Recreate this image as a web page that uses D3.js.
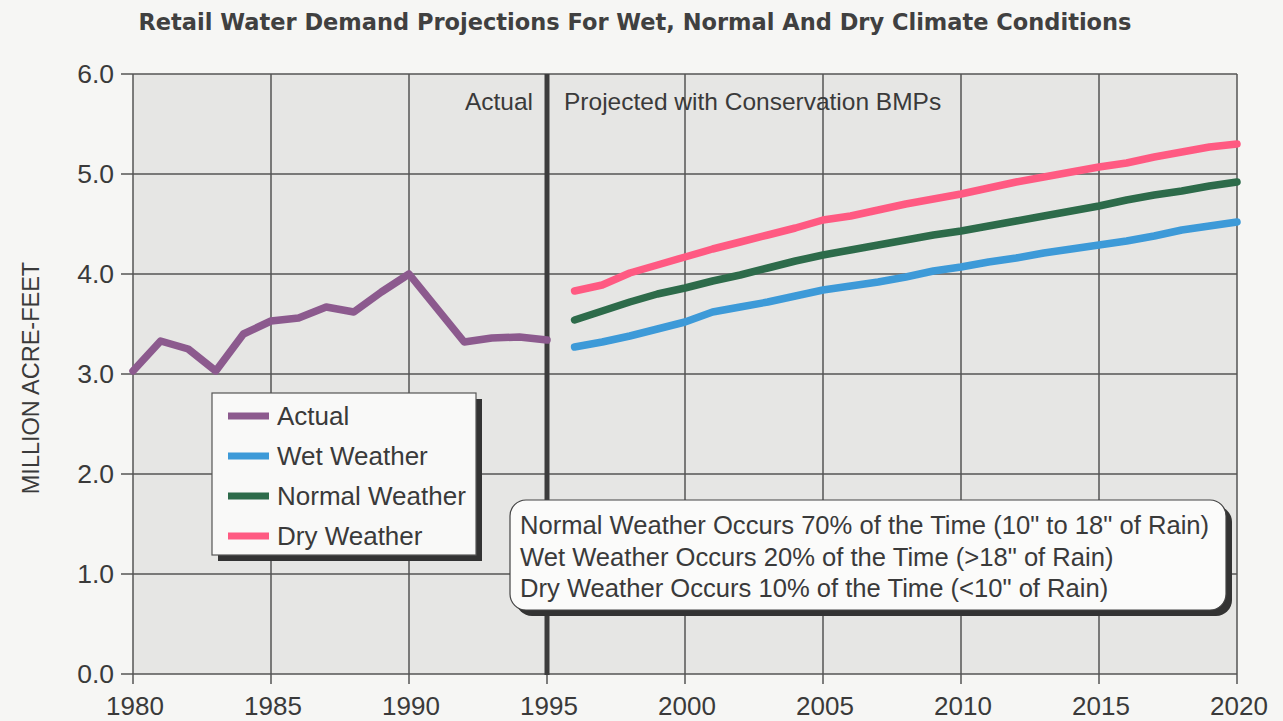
<!DOCTYPE html>
<html>
<head>
<meta charset="utf-8">
<script src="https://cdn.jsdelivr.net/npm/d3@7"></script>
<style>
  body { margin: 0; background: #f6f6f4; }
  svg { display: block; }
  text { font-family: "Liberation Sans", Arial, sans-serif; fill: #3a3a3a; }
</style>
</head>
<body>
<svg id="chart" width="1283" height="721"></svg>
<script>
// Data
var actualYears = d3.range(1980, 1996);
var actualValues = [3.03, 3.33, 3.25, 3.03, 3.40, 3.53, 3.56, 3.67, 3.62, 3.82, 4.00, 3.66, 3.32, 3.36, 3.37, 3.34];

var projYears = d3.range(1996, 2021);
var wetValues = [3.27, 3.32, 3.38, 3.45, 3.52, 3.62, 3.67, 3.72, 3.78, 3.84, 3.88, 3.92, 3.97,
                 4.03, 4.07, 4.12, 4.16, 4.21, 4.25, 4.29, 4.33, 4.38, 4.44, 4.48, 4.52];
var normalValues = [3.54, 3.63, 3.72, 3.80, 3.86, 3.93, 3.99, 4.06, 4.13, 4.19, 4.24, 4.29, 4.34,
                    4.39, 4.43, 4.48, 4.53, 4.58, 4.63, 4.68, 4.74, 4.79, 4.83, 4.88, 4.92];
var dryValues = [3.83, 3.89, 4.01, 4.09, 4.17, 4.25, 4.32, 4.39, 4.46, 4.54, 4.58, 4.64, 4.70,
                 4.75, 4.80, 4.86, 4.92, 4.97, 5.02, 5.07, 5.11, 5.17, 5.22, 5.27, 5.30];

var xTicks = [1980, 1985, 1990, 1995, 2000, 2005, 2010, 2015, 2020];
var yTicks = [0, 1, 2, 3, 4, 5, 6];

var legendLabels = ["Actual", "Wet Weather", "Normal Weather", "Dry Weather"];
var seriesColors = ["#8c5a8e", "#3d9ad8", "#2d6b4a", "#ff5a82"];
var noteLines = [
  "Normal Weather Occurs 70% of the Time (10\" to 18\" of Rain)",
  "Wet Weather Occurs 20% of the Time (>18\" of Rain)",
  "Dry Weather Occurs 10% of the Time (<10\" of Rain)"
];

(function(){
  var svg = d3.select("#chart");
  // plot box
  var pLeft = 133, pRight = 1237, pTop = 74, pBottom = 674;

  var x = d3.scaleLinear().domain([1980, 2020]).range([pLeft, pRight]);
  var y = d3.scaleLinear().domain([0, 6]).range([pBottom, pTop]);

  // Title
  svg.append("text")
    .attr("x", 635).attr("y", 30)
    .attr("text-anchor", "middle")
    .style("font-family", "'DejaVu Sans', sans-serif")
    .style("font-size", "22.5px").style("font-weight", "bold")
    .style("fill", "#404040")
    .text("Retail Water Demand Projections For Wet, Normal And Dry Climate Conditions");

  // Plot background
  svg.append("rect")
    .attr("x", pLeft).attr("y", pTop)
    .attr("width", pRight - pLeft).attr("height", pBottom - pTop)
    .attr("fill", "#e6e6e4");

  // Grid
  svg.append("g").selectAll("line").data(yTicks).join("line")
    .attr("x1", pLeft - 12).attr("x2", pRight)
    .attr("y1", d => y(d)).attr("y2", d => y(d))
    .attr("stroke", "#555").attr("stroke-width", 1.5);

  svg.append("g").selectAll("line").data(xTicks).join("line")
    .attr("x1", d => x(d)).attr("x2", d => x(d))
    .attr("y1", pTop).attr("y2", pBottom + 10)
    .attr("stroke", "#555").attr("stroke-width", 1.5);

  // Tick labels
  svg.append("g").selectAll("text").data(yTicks).join("text")
    .attr("x", pLeft - 19).attr("y", d => y(d) + 9)
    .attr("text-anchor", "end")
    .style("font-size", "26.5px")
    .text(d => d3.format(".1f")(d));

  svg.append("g").selectAll("text").data(xTicks).join("text")
    .attr("x", d => x(d) + 2).attr("y", 715)
    .attr("text-anchor", "middle")
    .style("font-size", "26px")
    .text(d => d);

  // Y axis title
  svg.append("text")
    .attr("transform", "translate(39," + (y(3) + 4) + ") rotate(-90)")
    .attr("text-anchor", "middle")
    .style("font-size", "23.5px")
    .text("MILLION ACRE-FEET");

  // Divider at 1995
  svg.append("line")
    .attr("x1", x(1995)).attr("x2", x(1995))
    .attr("y1", pTop).attr("y2", pBottom + 1)
    .attr("stroke", "#3c3c3c").attr("stroke-width", 5);

  svg.append("text")
    .attr("x", x(1995) - 14).attr("y", 110)
    .attr("text-anchor", "end")
    .style("font-size", "24.5px")
    .text("Actual");
  svg.append("text")
    .attr("x", x(1995) + 17).attr("y", 110)
    .style("font-size", "24.5px")
    .text("Projected with Conservation BMPs");

  // Lines
  var line = d3.line()
    .x(d => x(d[0]))
    .y(d => y(d[1]));

  var series = [
    d3.zip(actualYears, actualValues),
    d3.zip(projYears, wetValues),
    d3.zip(projYears, normalValues),
    d3.zip(projYears, dryValues)
  ];

  svg.append("g").selectAll("path").data(series).join("path")
    .attr("d", line)
    .attr("fill", "none")
    .attr("stroke", (d, i) => seriesColors[i])
    .attr("stroke-width", 7.5)
    .attr("stroke-linejoin", "round")
    .attr("stroke-linecap", "round");

  // Legend
  var lg = svg.append("g").attr("transform", "translate(212,393)");
  lg.append("rect").attr("x", 6).attr("y", 6).attr("width", 264).attr("height", 162).attr("fill", "#333");
  lg.append("rect").attr("width", 264).attr("height", 162)
    .attr("fill", "#f9f9f8").attr("stroke", "#555").attr("stroke-width", 1.2);
  var items = lg.selectAll("g.item").data(legendLabels).join("g")
    .attr("class", "item")
    .attr("transform", (d, i) => "translate(16," + (23 + i * 40) + ")");
  items.append("line")
    .attr("x1", 0).attr("x2", 41)
    .attr("stroke", (d, i) => seriesColors[i]).attr("stroke-width", 7);
  items.append("text")
    .attr("x", 49).attr("y", 9)
    .style("font-size", "26px")
    .text(d => d);

  // Note box
  var nb = svg.append("g").attr("transform", "translate(510,500)");
  nb.append("rect").attr("x", 6).attr("y", 6).attr("width", 716).attr("height", 110)
    .attr("rx", 16).attr("fill", "#333");
  nb.append("rect").attr("width", 716).attr("height", 110).attr("rx", 16)
    .attr("fill", "#fbfbfa").attr("stroke", "#444").attr("stroke-width", 1.2);
  nb.selectAll("text").data(noteLines).join("text")
    .attr("x", 10).attr("y", (d, i) => 34 + i * 31.5)
    .style("font-size", "25.6px")
    .text(d => d);
})();
</script>
</body>
</html>
